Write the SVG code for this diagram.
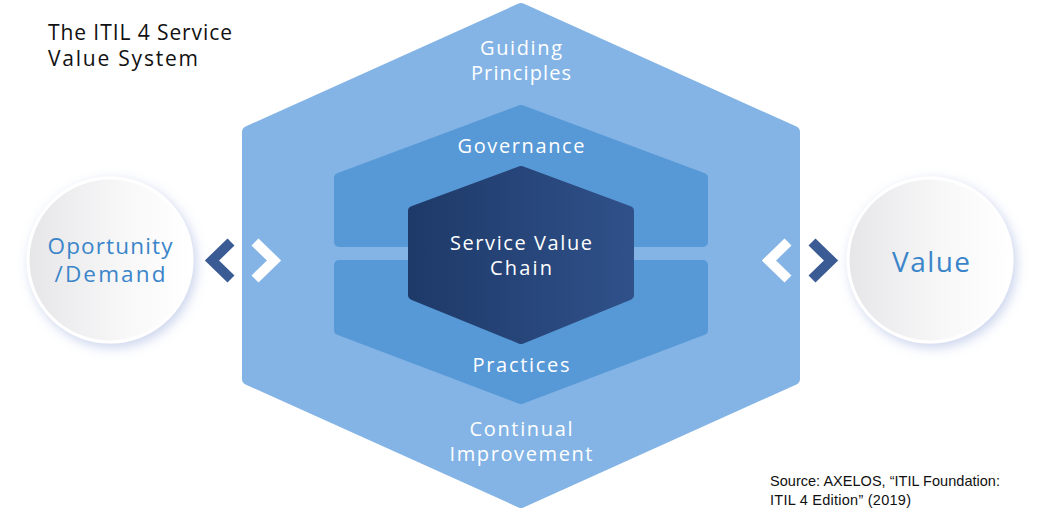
<svg xmlns="http://www.w3.org/2000/svg" width="1050" height="512" viewBox="0 0 1050 512">
<style>
.lbl{font-family:"Open Sans","Noto Sans",sans-serif;font-size:20px;fill:#ffffff;text-anchor:middle;font-weight:500}
.circ{font-family:"Open Sans","Noto Sans",sans-serif;fill:#3a85c9;text-anchor:middle;font-weight:500}
.title{font-family:"Open Sans","Noto Sans",sans-serif;font-size:21px;fill:#111111;font-weight:500}
.src{font-family:"Liberation Sans","Arial",sans-serif;font-size:14.5px;fill:#111111}
.chevD{fill:none;stroke:#3b5b94;stroke-width:10;stroke-linejoin:miter}
.chevW{fill:none;stroke:#ffffff;stroke-width:10;stroke-linejoin:miter}
</style>
<defs>
<linearGradient id="dark" x1="413" y1="0" x2="629" y2="0" gradientUnits="userSpaceOnUse">
<stop offset="0" stop-color="#1e3a69"/>
<stop offset="1" stop-color="#2f5089"/>
</linearGradient>
<linearGradient id="cg" x1="0" y1="0" x2="1" y2="0">
<stop offset="0" stop-color="#e6e6e8"/>
<stop offset="0.6" stop-color="#f8f8f9"/>
<stop offset="1" stop-color="#ffffff"/>
</linearGradient>
<filter id="sh" x="-30%" y="-30%" width="160%" height="160%">
<feDropShadow dx="3" dy="4" stdDeviation="6" flood-color="#8a9fd6" flood-opacity="0.45"/>
</filter>
</defs>
<rect width="1050" height="512" fill="#ffffff"/>
<g id="title">
<text class="title" x="48" y="40" textLength="184" lengthAdjust="spacing">The ITIL 4 Service</text>
<text class="title" x="48" y="66" textLength="150" lengthAdjust="spacing">Value System</text>
</g>
<g id="guiding-principles">
<polygon points="521,9 794,132 794,379 521,502 248,379 248,132" fill="#83b4e5" stroke="#83b4e5" stroke-width="12" stroke-linejoin="round"/>
<text class="lbl" x="521" y="55" textLength="82" lengthAdjust="spacing">Guiding</text>
<text class="lbl" x="521" y="80" textLength="100" lengthAdjust="spacing">Principles</text>
<text class="lbl" x="521" y="436" textLength="103" lengthAdjust="spacing">Continual</text>
<text class="lbl" x="521" y="461" textLength="143" lengthAdjust="spacing">Improvement</text>
</g>
<g id="governance">
<polygon points="339,242 339,178 521,110 703,178 703,242" fill="#5798d6" stroke="#5798d6" stroke-width="10" stroke-linejoin="round"/>
<text class="lbl" x="521" y="153" textLength="127" lengthAdjust="spacing">Governance</text>
</g>
<g id="practices">
<polygon points="339,265 703,265 703,330 521,399 339,330" fill="#5798d6" stroke="#5798d6" stroke-width="10" stroke-linejoin="round"/>
<text class="lbl" x="521" y="372" textLength="97" lengthAdjust="spacing">Practices</text>
</g>
<g id="service-value-chain">
<polygon points="413,295 413,211 521,171 629,211 629,295 521,339" fill="url(#dark)" stroke="url(#dark)" stroke-width="10" stroke-linejoin="round"/>
<text class="lbl" x="521" y="250" textLength="142" lengthAdjust="spacing">Service Value</text>
<text class="lbl" x="521" y="275" textLength="62" lengthAdjust="spacing">Chain</text>
</g>
<g id="opportunity-demand">
<circle cx="110" cy="260" r="82" fill="url(#cg)" stroke="#ffffff" stroke-width="3" filter="url(#sh)"/>
<text class="circ" x="110" y="254" font-size="22.5" textLength="125" lengthAdjust="spacing">Oportunity</text>
<text class="circ" x="110" y="282" font-size="22.5" textLength="111" lengthAdjust="spacing">/Demand</text>
</g>
<g id="value">
<circle cx="930" cy="260" r="82" fill="url(#cg)" stroke="#ffffff" stroke-width="3" filter="url(#sh)"/>
<text class="circ" x="931" y="272" font-size="28" textLength="78" lengthAdjust="spacing">Value</text>
</g>
<g id="connectors">
<polyline class="chevD" points="231,242 212,260.5 231,279"/>
<polyline class="chevW" points="255,242 274,260.5 255,279"/>
<polyline class="chevW" points="788,242 769,260.5 788,279"/>
<polyline class="chevD" points="812,242 831,260.5 812,279"/>
</g>
<g id="source">
<text class="src" x="770" y="486" textLength="230" lengthAdjust="spacing">Source: AXELOS, “ITIL Foundation:</text>
<text class="src" x="770" y="505" textLength="141" lengthAdjust="spacing">ITIL 4 Edition” (2019)</text>
</g>
</svg>
